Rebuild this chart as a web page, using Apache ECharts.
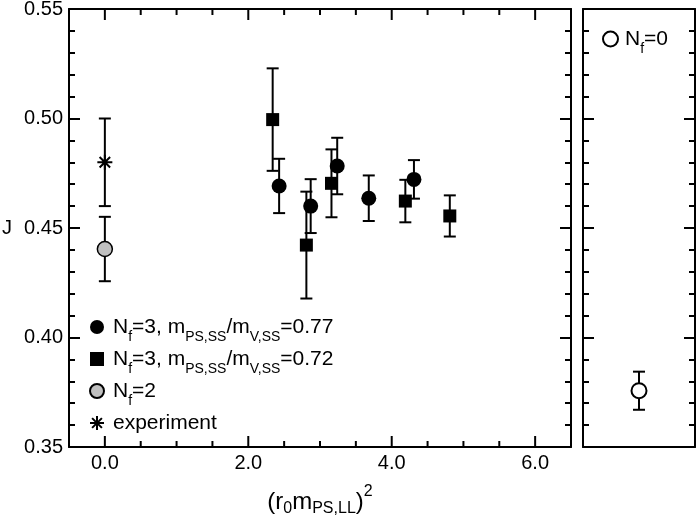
<!DOCTYPE html>
<html>
<head>
<meta charset="utf-8">
<script src="https://cdn.jsdelivr.net/npm/echarts@6/dist/echarts.min.js"></script>
<style>
html, body { margin: 0; padding: 0; background: #fff; }
#chart { width: 698px; height: 518px; }
</style>
</head>
<body>
<div id="chart"></div>
<script>
// N_f=3, mPS/mV=0.77 (filled circles)
const nf3aX = [2.43, 2.87, 3.24, 3.68, 4.31];
const nf3aY = [0.4692, 0.4600, 0.4783, 0.4636, 0.4722];
const nf3aErr = [0.0124, 0.0123, 0.0129, 0.0104, 0.0088];
// N_f=3, mPS/mV=0.72 (filled squares)
const nf3bX = [2.34, 2.81, 3.16, 4.19, 4.81];
const nf3bY = [0.4995, 0.4422, 0.4704, 0.4623, 0.4555];
const nf3bErr = [0.0234, 0.0244, 0.0155, 0.0097, 0.0094];
// N_f=2 (grey circle)
const nf2X = [0.0];
const nf2Y = [0.4404];
const nf2Err = [0.0147];
// experiment (asterisk)
const expX = [0.0];
const expY = [0.48];
const expErr = [0.02];
// N_f=0 (open circle, right panel)
const nf0X = [0.5];
const nf0Y = [0.3757];
const nf0Err = [0.0087];
// x ticks: every 0.5 inside the frame, labels on the majors
const xTickVals = [0, 0.5, 1, 1.5, 2, 2.5, 3, 3.5, 4, 4.5, 5, 5.5, 6];
const xMajor = [0, 2, 4, 6];

const FONT = 'Liberation Sans';
const BLACK = '#000';
const ASTERISK = 'path://M10 0 L10 20 M0 10 L20 10 M3 3 L17 17 M3 17 L17 3';
const MAIN_W = 502, SIDE_W = 112, PLOT_H = 438;
const Y_MIN = 0.35, Y_MAX = 0.55;

const legendText = {
	'nf3a': '{g| }{n|N}{s|f}{n|=3, m}{s|PS,SS}{n|/m}{s|V,SS}{n|=0.77}',
	'nf3b': '{g| }{n|N}{s|f}{n|=3, m}{s|PS,SS}{n|/m}{s|V,SS}{n|=0.72}',
	'nf2': '{g| }{n|N}{s|f}{n|=2}',
	'exp': '{g| }{n|experiment}',
	'nf0': '{h| }{n|N}{s|f}{n|=0}'
};

// g/h: invisible spacer box so every legend row has the same height
const richLegend = {
	g: { width: 4, height: 40, lineHeight: 26, backgroundColor: 'rgba(255,255,255,0)' },
	h: { width: 2, height: 40, lineHeight: 26, backgroundColor: 'rgba(255,255,255,0)' },
	n: { fontSize: 21, lineHeight: 26, fontFamily: FONT, color: BLACK, verticalAlign: 'middle' },
	s: { fontSize: 14, lineHeight: 26, fontFamily: FONT, color: BLACK, verticalAlign: 'middle', padding: [21, 0, 0, 0] }
};

function zip(xs, ys) {
	return xs.map(function (x, i) { return [x, ys[i]]; });
}
function zip3(xs, ys, es) {
	return xs.map(function (x, i) { return [x, ys[i], es[i]]; });
}
function isMajor(v) {
	return xMajor.indexOf(Number(v)) >= 0;
}

// error bar with caps
function renderBar(params, api) {
	const x = api.value(0), y = api.value(1), e = api.value(2);
	const top = api.coord([x, y + e]);
	const bot = api.coord([x, y - e]);
	const w = 6;
	const style = { stroke: BLACK, lineWidth: 2, fill: null };
	return {
		type: 'group',
		children: [
			{ type: 'line', shape: { x1: top[0], y1: top[1], x2: bot[0], y2: bot[1] }, style: style },
			{ type: 'line', shape: { x1: top[0] - w, y1: top[1], x2: top[0] + w, y2: top[1] }, style: style },
			{ type: 'line', shape: { x1: bot[0] - w, y1: bot[1], x2: bot[0] + w, y2: bot[1] }, style: style }
		]
	};
}

function errSeries(xs, ys, es, xi, yi) {
	return {
		type: 'custom',
		xAxisIndex: xi,
		yAxisIndex: yi,
		renderItem: renderBar,
		encode: { x: 0, y: 1 },
		data: zip3(xs, ys, es),
		z: 2,
		silent: true
	};
}

// plain frame edge (line only)
function xLine(gi, pos) {
	return {
		type: 'value', gridIndex: gi, position: pos,
		min: gi === 0 ? -0.5 : 0, max: gi === 0 ? 6.5 : 1,
		axisLine: { show: true, onZero: false, lineStyle: { color: BLACK, width: 2 } },
		axisTick: { show: false }, axisLabel: { show: false }, splitLine: { show: false }
	};
}
function yLine(gi, pos) {
	return {
		type: 'value', gridIndex: gi, position: pos,
		min: Y_MIN, max: Y_MAX, interval: 0.05,
		axisLine: { show: true, onZero: false, lineStyle: { color: BLACK, width: 2 } },
		axisTick: { show: false }, axisLabel: { show: false },
		splitLine: { show: false }, minorSplitLine: { show: false }
	};
}
// tick-only y axis, placed on the opposite edge so outward ticks point into the plot
function yTicks(gi, pos, width) {
	return {
		type: 'value', gridIndex: gi, position: pos, offset: -width,
		min: Y_MIN, max: Y_MAX, interval: 0.05,
		axisLine: { show: false, onZero: false },
		axisTick: { show: true, inside: false, length: 11, lineStyle: { color: BLACK, width: 2 } },
		minorTick: { show: true, splitNumber: 5, length: 6, lineStyle: { color: BLACK, width: 2 } },
		axisLabel: { show: false },
		splitLine: { show: false }, minorSplitLine: { show: false }
	};
}

const xAxes = [
	xLine(0, 'bottom'),            // 0: main bottom with labels + name
	xLine(0, 'top'),               // 1: main top edge
	xLine(1, 'bottom'),            // 2: side panel
	xLine(1, 'top')                // 3
];
xAxes[0].interval = 0.5;
xAxes[0].axisLabel = {
	show: true, margin: 6, fontSize: 20, fontFamily: FONT, color: BLACK,
	formatter: function (v) { return isMajor(v) ? v.toFixed(1) : ''; }
};
xAxes[0].name = '{n|(r}{s|0}{n|m}{s|PS,LL}{n|)}{p|2}';
xAxes[0].nameLocation = 'middle';
xAxes[0].nameGap = 40;
xAxes[0].nameTextStyle = {
	fontFamily: FONT,
	color: BLACK,
	rich: {
		n: { fontSize: 24, lineHeight: 30, fontFamily: FONT, color: BLACK, verticalAlign: 'middle' },
		s: { fontSize: 16, lineHeight: 30, fontFamily: FONT, color: BLACK, verticalAlign: 'middle', padding: [13, 0, 0, 0] },
		p: { fontSize: 16, lineHeight: 30, fontFamily: FONT, color: BLACK, verticalAlign: 'middle', padding: [0, 0, 20, 0] }
	}
};

const yAxes = [
	yLine(0, 'left'),              // 0: main left with labels + name
	yLine(0, 'right'),             // 1
	yTicks(0, 'right', MAIN_W),    // 2: ticks on left edge
	yTicks(0, 'left', MAIN_W),     // 3: ticks on right edge
	yLine(1, 'left'),              // 4: side panel
	yLine(1, 'right'),             // 5
	yTicks(1, 'right', SIDE_W),    // 6
	yTicks(1, 'left', SIDE_W)      // 7
];
yAxes[0].axisLabel = {
	show: true, margin: 6, fontSize: 20, fontFamily: FONT, color: BLACK,
	formatter: function (v) { return v.toFixed(2); }
};
yAxes[0].name = 'J';
yAxes[0].nameLocation = 'middle';
yAxes[0].nameRotate = 0;
yAxes[0].nameGap = 57;
yAxes[0].nameTextStyle = { fontSize: 20, fontFamily: FONT, color: BLACK };

const chart = echarts.init(document.getElementById('chart'));

const option = {
	backgroundColor: '#fff',
	animation: false,
	grid: [
		{ left: 69, top: 9, width: MAIN_W, height: PLOT_H, outerBoundsMode: 'none', containLabel: false },
		{ left: 583, top: 9, width: SIDE_W, height: PLOT_H, outerBoundsMode: 'none', containLabel: false }
	],
	legend: [{
		data: ['nf3a', 'nf3b', 'nf2', 'exp'],
		orient: 'vertical',
		left: 89,
		top: 307,
		padding: 0,
		itemGap: -8,
		itemWidth: 14,
		itemHeight: 14,
		selectedMode: false,
		formatter: function (name) { return legendText[name]; },
		textStyle: { fontFamily: FONT, fontSize: 21, color: BLACK, rich: richLegend }
	}, {
		data: ['nf0'],
		orient: 'vertical',
		left: 602,
		top: 19,
		padding: 0,
		itemWidth: 15,
		itemHeight: 15,
		selectedMode: false,
		formatter: function (name) { return legendText[name]; },
		textStyle: { fontFamily: FONT, fontSize: 21, color: BLACK, rich: richLegend }
	}],
	xAxis: xAxes,
	yAxis: yAxes,
	series: [
		errSeries(nf3aX, nf3aY, nf3aErr, 0, 0),
		errSeries(nf3bX, nf3bY, nf3bErr, 0, 0),
		errSeries(nf2X, nf2Y, nf2Err, 0, 0),
		errSeries(expX, expY, expErr, 0, 0),
		errSeries(nf0X, nf0Y, nf0Err, 2, 4),
		{
			name: 'nf3a', type: 'scatter', xAxisIndex: 0, yAxisIndex: 0,
			symbol: 'circle', symbolSize: 15,
			itemStyle: { color: BLACK, opacity: 1 },
			data: zip(nf3aX, nf3aY), z: 3
		},
		{
			name: 'nf3b', type: 'scatter', xAxisIndex: 0, yAxisIndex: 0,
			symbol: 'rect', symbolSize: 13,
			itemStyle: { color: BLACK, opacity: 1 },
			data: zip(nf3bX, nf3bY), z: 3
		},
		{
			name: 'nf2', type: 'scatter', xAxisIndex: 0, yAxisIndex: 0,
			symbol: 'circle', symbolSize: 15,
			itemStyle: { color: '#c0c0c0', borderColor: BLACK, borderWidth: 1.5, opacity: 1 },
			data: zip(nf2X, nf2Y), z: 3
		},
		{
			name: 'exp', type: 'scatter', xAxisIndex: 0, yAxisIndex: 0,
			symbol: ASTERISK, symbolSize: 15,
			itemStyle: { color: BLACK, borderColor: BLACK, borderWidth: 2, opacity: 1 },
			data: zip(expX, expY), z: 3
		},
		{
			name: 'nf0', type: 'scatter', xAxisIndex: 2, yAxisIndex: 4,
			symbol: 'circle', symbolSize: 15,
			itemStyle: { color: '#fff', borderColor: BLACK, borderWidth: 2, opacity: 1 },
			data: zip(nf0X, nf0Y), z: 3
		}
	]
};

chart.setOption(option);

// inward x ticks on the bottom and top frame edges, placed through the x/y scales
const tickGraphics = [];
xTickVals.forEach(function (v) {
	const len = isMajor(v) ? 11 : 6;
	const b = chart.convertToPixel({ xAxisIndex: 0, yAxisIndex: 0 }, [v, Y_MIN]);
	const t = chart.convertToPixel({ xAxisIndex: 0, yAxisIndex: 0 }, [v, Y_MAX]);
	tickGraphics.push({
		type: 'line', z: 100, silent: true,
		shape: { x1: b[0], y1: b[1], x2: b[0], y2: b[1] - len },
		style: { stroke: BLACK, lineWidth: 2 }
	});
	tickGraphics.push({
		type: 'line', z: 100, silent: true,
		shape: { x1: t[0], y1: t[1], x2: t[0], y2: t[1] + len },
		style: { stroke: BLACK, lineWidth: 2 }
	});
});
chart.setOption({ graphic: tickGraphics });
</script>
</body>
</html>
